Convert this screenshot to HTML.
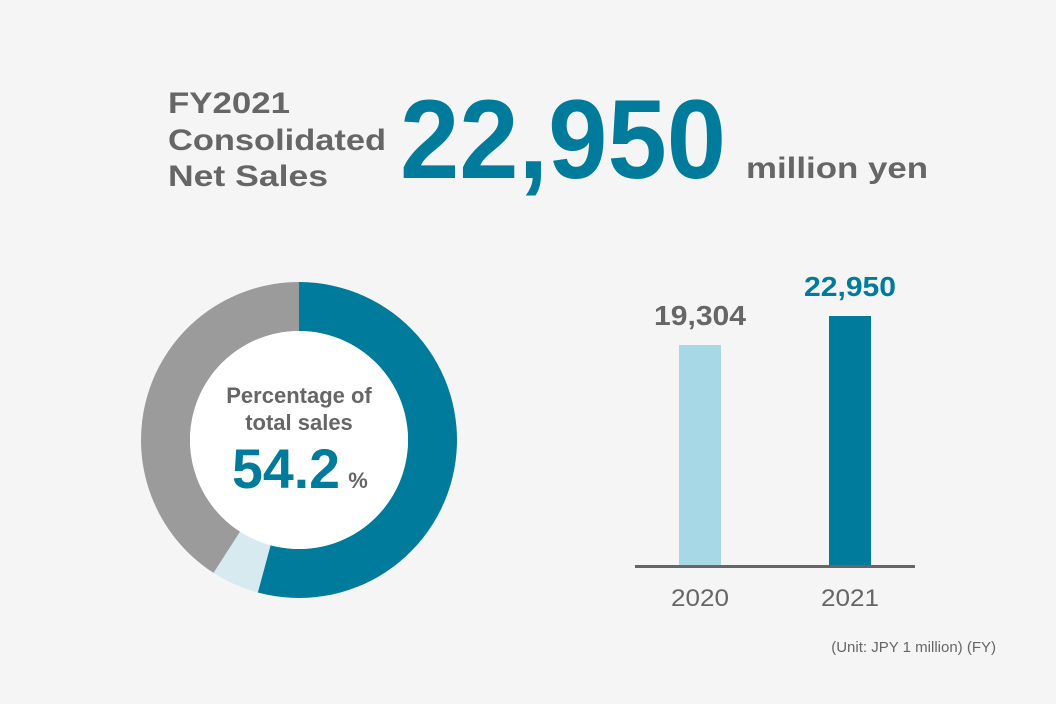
<!DOCTYPE html>
<html><head><meta charset="utf-8">
<style>
html,body{margin:0;padding:0;background:#f5f5f5;}
svg{display:block;font-family:"Liberation Sans",sans-serif;}
</style></head>
<body>
<svg id="chart" width="1056" height="704" viewBox="0 0 1056 704">
  <rect width="1056" height="704" fill="#f5f5f5"/>
  <g font-weight="bold" fill="#666">
    <text x="168" y="113" font-size="30" textLength="122" lengthAdjust="spacingAndGlyphs">FY2021</text>
    <text x="168" y="150" font-size="30" textLength="218" lengthAdjust="spacingAndGlyphs">Consolidated</text>
    <text x="168" y="186" font-size="30" textLength="160" lengthAdjust="spacingAndGlyphs">Net Sales</text>
    <text x="400" y="178" font-size="112" fill="#007b9c" textLength="326" lengthAdjust="spacingAndGlyphs">22,950</text>
    <text x="746" y="178" font-size="30" textLength="182" lengthAdjust="spacingAndGlyphs">million yen</text>
  </g>
  <g id="donut"></g>
  <g font-weight="bold" text-anchor="middle">
    <text x="299" y="403" font-size="22" fill="#666">Percentage of</text>
    <text x="299" y="430" font-size="22" fill="#666">total sales</text>
    <text x="286" y="488" font-size="56" fill="#007b9c" textLength="108" lengthAdjust="spacingAndGlyphs">54.2</text>
    <text x="358" y="488" font-size="22" fill="#666">%</text>
  </g>
  <g id="bars"></g>
  <text x="996" y="652" font-size="15" fill="#666" text-anchor="end">(Unit: JPY 1 million)  (FY)</text>
</svg>
<script>
const donutLabels = ["share", "other-light", "other-gray"];
const donutValues = [54.2, 4.9, 40.9];
const donutColors = ["#007b9c", "#d6eaf0", "#9b9b9b"];

const barCategories = ["2020", "2021"];
const barValues = [19304, 22950];
const barLabels = ["19,304", "22,950"];
const barColors = ["#a6d8e6", "#007b9c"];
const barLabelColors = ["#666", "#007b9c"];

const NS = "http://www.w3.org/2000/svg";
function mk(tag, attrs, parent){const e=document.createElementNS(NS,tag);for(const k in attrs)e.setAttribute(k,attrs[k]);parent.appendChild(e);return e;}

// donut
const dg = document.getElementById("donut");
const cx=299, cy=440, R=158, r=109;
const total = donutValues.reduce((a,b)=>a+b,0);
function pt(rad, frac){const a=frac*2*Math.PI;return [cx+rad*Math.sin(a), cy-rad*Math.cos(a)];}
let acc=0;
donutValues.forEach((v,i)=>{
  const f0=acc/total, f1=(acc+v)/total; acc+=v;
  const [x0,y0]=pt(R,f0),[x1,y1]=pt(R,f1),[x2,y2]=pt(r,f1),[x3,y3]=pt(r,f0);
  const large=(f1-f0)>0.5?1:0;
  const p=mk("path",{d:`M${x0},${y0} A${R},${R} 0 ${large} 1 ${x1},${y1} L${x2},${y2} A${r},${r} 0 ${large} 0 ${x3},${y3} Z`,fill:donutColors[i]},dg);
  
  
});
const hole=mk("circle",{cx:cx,cy:cy,r:r,fill:"#fff"},dg);



// bars
const bg = document.getElementById("bars");
const baseY=566, d0=-8490, k=250/(22950-d0);
function yScale(v){return baseY-(v-d0)*k;}
const xCenters0=700, step=150, bw=42;
function xScale(i){return xCenters0+i*step;}
barValues.forEach((v,i)=>{
  const x=xScale(i), y=yScale(v);
  const b=mk("rect",{x:x-bw/2,y:y,width:bw,height:baseY-y,fill:barColors[i]},bg);
  
  
  const t=mk("text",{x:x,y:y-20,"font-size":28,"font-weight":"bold",fill:barLabelColors[i],"text-anchor":"middle",textLength:92,lengthAdjust:"spacingAndGlyphs"},bg);
  t.textContent=barLabels[i];
  
  
  const c=mk("text",{x:x,y:606,"font-size":24,fill:"#666","text-anchor":"middle",textLength:58,lengthAdjust:"spacingAndGlyphs"},bg);
  c.textContent=barCategories[i];
  
  
});
const axis=mk("rect",{x:635,y:baseY-1,width:280,height:3,fill:"#666"},bg);


</script>
</body></html>
